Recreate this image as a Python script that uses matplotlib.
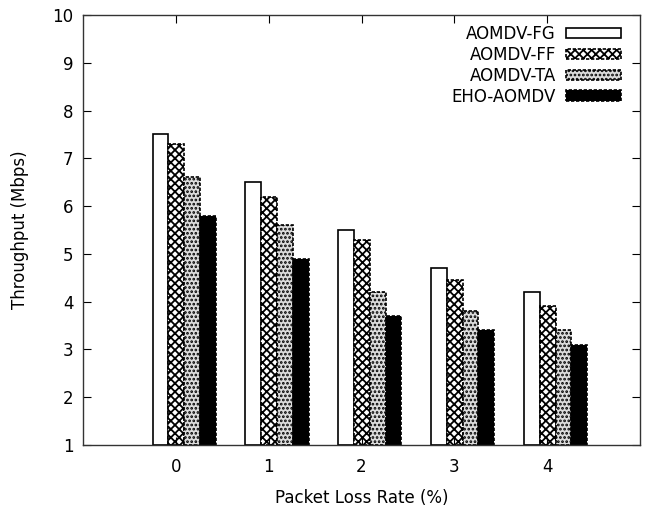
import matplotlib
matplotlib.use("Agg")
import matplotlib.pyplot as plt
import numpy as np

categories = [0, 1, 2, 3, 4]
series_names = ["AOMDV-FG", "AOMDV-FF", "AOMDV-TA", "EHO-AOMDV"]
fg = [7.5, 6.5, 5.5, 4.7, 4.2]
ff = [7.3, 6.2, 5.3, 4.45, 3.9]
ta = [6.6, 5.6, 4.2, 3.8, 3.4]
eho = [5.8, 4.9, 3.7, 3.4, 3.1]
yticks = [1, 2, 3, 4, 5, 6, 7, 8, 9, 10]

plt.rcParams['font.family'] = ['DejaVu Sans']
plt.rcParams['hatch.linewidth'] = 1.3

fig = plt.figure(figsize=(6.45, 5.08), dpi=100)
ax = fig.add_axes([83/645, 63/508, (640-83)/645, (445-15)/508])

x = np.array(categories, dtype=float)
w = 0.17
styles = [
    dict(facecolor='white', edgecolor='black', hatch=None, linestyle='-'),
    dict(facecolor='white', edgecolor='black', hatch='xxxx', linestyle=(0, (2, 1))),
    dict(facecolor='#dcdcdc', edgecolor='black', hatch='....', linestyle=(0, (2, 1))),
    dict(facecolor='black', edgecolor='black', hatch=None, linestyle=(0, (2, 1))),
]
for i, (vals, name, st) in enumerate(zip([fg, ff, ta, eho], series_names, styles)):
    ax.bar(x - 0.25 + i * w, np.array(vals) - 1, width=w, bottom=1, align='edge',
           facecolor=st['facecolor'], edgecolor=st['edgecolor'], hatch=st['hatch'],
           linestyle=st['linestyle'], linewidth=1.2, label=name)

ax.set_xlim(-1, 5)
ax.set_ylim(1, 10)
ax.set_xticks(categories)
ax.set_yticks(yticks)
ax.tick_params(direction='in', top=True, right=True, labelsize=12, length=6, pad=7)
ax.tick_params(axis='x', pad=9)
for s in ax.spines.values():
    s.set_linewidth(1.0)
    s.set_color('#333333')
ax.set_xlabel("Packet Loss Rate (%)", fontsize=12, labelpad=10)
ax.set_ylabel("Throughput (Mbps)", fontsize=12, labelpad=17)

leg = ax.legend(loc='upper right', frameon=False, markerfirst=False, fontsize=12,
                handlelength=3.3, handleheight=0.6, labelspacing=0.17,
                handletextpad=0.6, borderaxespad=0, borderpad=0,
                bbox_to_anchor=((621-83)/557, (445-25)/430))
for t in leg.get_texts():
    t.set_ha('right')

fig.savefig("out.png", dpi=100)
